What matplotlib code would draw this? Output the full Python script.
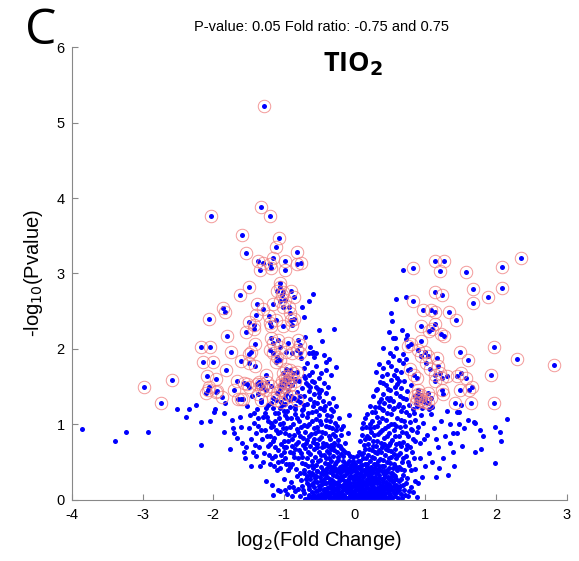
import numpy as np
import matplotlib
matplotlib.use("Agg")
import matplotlib.pyplot as plt

plt.rcParams['font.family'] = ['Liberation Sans', 'DejaVu Sans']
plt.rcParams['axes.unicode_minus'] = False

# significant proteins (circled), log2 fold change / -log10 p
sig_left = """
-1.28,5.22 -1.33,3.88 -1.20,3.76 -2.03,3.76 -1.59,3.51 -1.07,3.47 -1.11,3.35 -1.54,3.27
-0.81,3.28 -1.16,3.21 -1.36,3.17 -1.29,3.14 -1.20,3.13 -0.99,3.16 -0.82,3.12 -0.76,3.14
-1.34,3.05 -1.18,3.07 -0.99,3.05
-1.50,2.82 -1.62,2.71 -1.05,2.87 -1.06,2.82 -1.10,2.77 -1.02,2.76 -1.03,2.72 -0.90,2.77
-0.86,2.69 -0.99,2.65 -1.06,2.63 -1.15,2.59 -1.38,2.60 -1.30,2.53 -1.01,2.55 -0.93,2.55
-0.91,2.47 -1.86,2.54 -1.83,2.49 -2.06,2.40 -1.39,2.45 -1.21,2.44 -1.11,2.38 -0.86,2.40
-1.50,2.36 -1.43,2.32 -1.20,2.35 -1.19,2.30 -1.02,2.30 -0.90,2.38 -0.88,2.32
-1.81,2.17 -1.54,2.22 -1.43,2.27 -2.17,2.03 -2.04,2.03 -1.75,1.96 -1.41,2.07 -1.47,1.96
-1.50,1.93 -2.15,1.83 -2.00,1.83 -1.61,1.84 -1.50,1.81 -1.41,1.78 -1.82,1.72 -2.09,1.64
-1.96,1.60 -1.66,1.58 -1.52,1.53 -1.57,1.55 -1.49,1.49 -1.70,1.46 -2.07,1.45 -2.06,1.50
-1.94,1.44 -1.87,1.36 -1.65,1.34 -1.61,1.34 -1.58,1.33 -1.38,1.53 -1.35,1.56 -1.25,1.65
-1.24,1.56 -1.33,1.48 -1.26,1.46 -1.37,1.40 -1.32,1.32 -1.16,1.35 -1.10,1.42 -1.19,1.51
-1.05,1.52 -1.19,2.14 -1.16,2.08 -1.08,2.12 -1.05,2.03 -0.94,2.08 -0.80,2.12 -0.78,2.05
-1.20,1.99 -1.15,1.94 -1.10,1.89 -0.97,1.96 -0.88,1.94 -0.82,1.99 -0.78,1.94 -1.11,1.83
-1.06,1.85 -0.97,1.74 -0.92,1.72 -0.87,1.68 -0.82,1.70 -1.01,1.68 -0.99,1.61 -0.94,1.59
-0.90,1.61 -0.85,1.57 -0.98,1.55 -0.92,1.52 -1.06,1.46 -0.97,1.40 -0.90,1.37 -0.82,1.32
-1.11,1.32 -1.04,1.30 -0.99,1.35 -1.03,1.58 -0.96,1.64 -1.00,1.50 -0.95,1.55 -1.33,1.53
-1.30,1.50 -2.98,1.49 -2.74,1.29 -2.58,1.59 -2.10,1.41 -1.96,1.43
"""

sig_right = """
2.35,3.21 2.08,3.09 1.57,3.02 1.13,3.16 1.26,3.16 1.20,3.03 0.83,3.07 1.67,2.80
2.08,2.81 1.89,2.69 1.67,2.61 1.14,2.76 1.23,2.72 0.82,2.64 0.97,2.51 1.08,2.52
1.14,2.49 1.33,2.49 1.43,2.39 0.94,2.31 1.13,2.33 1.09,2.27 1.05,2.24 1.22,2.20
1.26,2.17 0.94,2.10 0.79,2.07 0.76,2.04 1.97,2.03 1.49,1.96 1.60,1.85 2.29,1.87
2.82,1.79 0.90,1.99 0.99,1.96 0.94,1.90 1.04,1.91 1.01,1.81 1.07,1.74 1.18,1.77
1.17,1.88 0.78,1.74 0.84,1.66 0.88,1.61 1.13,1.66 1.20,1.68 1.13,1.58 1.23,1.61
1.30,1.64 1.44,1.64 1.51,1.68 1.57,1.62 1.93,1.65 1.49,1.46 1.61,1.46 1.66,1.49
0.90,1.46 0.94,1.39 1.04,1.41 1.08,1.35 1.23,1.46 1.25,1.40 0.85,1.37 0.92,1.32
0.99,1.30 1.04,1.28 1.42,1.29 1.65,1.29 1.97,1.29 0.88,1.33 0.93,1.36 0.96,1.31
1.00,1.34 0.89,1.40 0.87,1.29
"""

# all other proteins
left_tail = """
-3.85,0.94 -3.39,0.78 -3.23,0.90 -2.92,0.90 -2.51,1.21 -2.38,1.10 -2.34,1.21 -2.25,1.26
-2.18,1.03 -2.18,0.73 -2.04,1.05 -1.99,1.16 -1.98,1.21 -1.85,1.15 -1.83,1.28 -1.85,0.90
-1.74,1.06 -1.77,0.68 -1.72,0.95 -1.70,0.88 -1.59,0.75 -1.61,0.97 -1.56,0.64 -1.55,0.55
-1.47,0.45 -1.44,0.64 -1.41,0.73 -1.34,0.45 -1.26,0.25 -1.17,0.20 -1.16,0.07 -1.08,0.13
-1.05,0.12 -0.99,0.13 -0.87,0.17
-1.52,1.25 -1.48,1.12 -1.45,1.38 -1.42,1.02 -1.40,0.88 -1.38,1.20 -1.36,0.98 -1.33,1.30
-1.31,0.80 -1.30,1.10 -1.28,0.62 -1.27,0.92 -1.25,1.22 -1.23,0.72 -1.22,1.05 -1.20,0.85
-1.18,1.28 -1.17,0.55 -1.15,0.98 -1.13,1.15 -1.12,0.70 -1.10,0.40 -1.09,0.88 -1.07,1.08
-1.05,1.22 -1.04,0.60 -1.02,0.95 -1.00,0.78 -0.98,1.12 -0.97,0.48
-1.50,0.95 -1.46,0.80 -1.43,1.15 -1.39,0.58 -1.37,1.08 -1.35,0.70 -1.32,0.92 -1.29,0.50
-1.27,1.15 -1.24,0.85 -1.21,0.60 -1.19,1.02 -1.16,0.78 -1.14,0.45 -1.11,0.92 -1.09,0.66
-1.06,1.00 -1.03,0.52 -1.62,1.10 -1.66,0.82 -1.53,0.70
"""

core = """
-0.78,0.05 -0.74,0.18 -0.71,0.09 -0.69,0.27 -0.66,0.02 -0.64,0.14 -0.62,0.33 -0.60,0.21
-0.58,0.07 -0.56,0.29 -0.55,0.12 -0.53,0.38 -0.51,0.02 -0.50,0.19 -0.48,0.25 -0.47,0.08
-0.45,0.34 -0.44,0.15 -0.42,0.03 -0.41,0.22 -0.39,0.30 -0.38,0.10 -0.36,0.17 -0.35,0.37
-0.34,0.04 -0.32,0.26 -0.31,0.12 -0.30,0.20 -0.28,0.06 -0.27,0.32 -0.26,0.15 -0.24,0.24
-0.23,0.01 -0.22,0.09 -0.21,0.36 -0.20,0.18 -0.18,0.28 -0.17,0.05 -0.16,0.13 -0.15,0.21
-0.14,0.33 -0.12,0.02 -0.11,0.10 -0.10,0.26 -0.09,0.17 -0.08,0.38 -0.07,0.06 -0.06,0.22
-0.05,0.13 -0.04,0.30 -0.03,0.01 -0.02,0.19 -0.01,0.09 0.00,0.27 0.01,0.04 0.02,0.15
0.03,0.35 0.04,0.22 0.05,0.08 0.06,0.30 0.07,0.12 0.08,0.02 0.09,0.19 0.10,0.26
0.11,0.06 0.12,0.14 0.13,0.33 0.14,0.21 0.15,0.03 0.16,0.10 0.17,0.28 0.18,0.17
0.19,0.37 0.20,0.07 0.21,0.23 0.22,0.13 0.23,0.31 0.24,0.02 0.25,0.19 0.26,0.09
0.27,0.26 0.29,0.15 0.30,0.35 0.31,0.05 0.32,0.22 0.33,0.11 0.35,0.29 0.36,0.18
0.37,0.02 0.38,0.38 0.39,0.08 0.40,0.24 0.41,0.14 0.43,0.32 0.44,0.04 0.45,0.20
0.47,0.11 0.48,0.27 0.50,0.06 0.51,0.36 0.52,0.17 0.54,0.23 0.55,0.09 0.57,0.31
0.59,0.14 0.61,0.03 0.62,0.25 0.64,0.19 0.66,0.08 0.68,0.33 0.70,0.13 0.72,0.22
0.75,0.05 0.79,0.17 0.82,0.10 -0.85,0.12 -0.90,0.24 -0.95,0.08 -0.82,0.31
-0.46,0.01 -0.43,0.12 -0.40,0.06 -0.37,0.23 -0.33,0.16 -0.29,0.01 -0.25,0.08 -0.22,0.20
-0.19,0.11 -0.16,0.01 -0.13,0.25 -0.10,0.03 -0.07,0.16 -0.04,0.08 -0.01,0.23 0.02,0.01
0.05,0.17 0.08,0.24 0.11,0.11 0.14,0.07 0.17,0.21 0.20,0.14 0.23,0.05 0.26,0.17
0.28,0.03 0.31,0.25 0.34,0.15 0.37,0.10 0.40,0.01 0.43,0.18 -0.35,0.01 -0.31,0.09
-0.27,0.22 -0.20,0.03 -0.15,0.17 -0.09,0.12 -0.03,0.05 0.01,0.13 0.04,0.26 0.07,0.04
0.10,0.18 0.13,0.01 0.16,0.24 0.19,0.02 0.22,0.27 0.25,0.12 0.28,0.22 0.32,0.07
0.35,0.04 -0.49,0.14 -0.52,0.06 -0.57,0.17 -0.61,0.10 0.46,0.14 0.49,0.21 0.53,0.02
0.56,0.26 0.60,0.10
-0.70,0.01 -0.67,0.22 -0.65,0.07 -0.63,0.28 -0.60,0.36 -0.59,0.01 -0.57,0.24 -0.54,0.32
-0.52,0.13 -0.49,0.30 -0.47,0.20 -0.45,0.07 -0.43,0.27 -0.41,0.35 -0.39,0.16 -0.37,0.04
-0.35,0.28 -0.33,0.10 -0.31,0.33 -0.29,0.16 -0.28,0.40 -0.26,0.04 -0.24,0.30 -0.23,0.14
-0.21,0.26 -0.19,0.42 -0.18,0.07 -0.16,0.31 -0.14,0.04 -0.13,0.18 -0.11,0.36 -0.09,0.22
-0.08,0.01 -0.06,0.32 -0.05,0.18 -0.03,0.40 -0.02,0.11 0.00,0.20 0.01,0.33 0.03,0.07
0.05,0.28 0.06,0.14 0.08,0.36 0.09,0.07 0.11,0.22 0.12,0.30 0.14,0.11 0.15,0.38
0.17,0.02 0.18,0.25 0.20,0.32 0.21,0.10 0.23,0.20 0.24,0.39 0.26,0.01 0.27,0.13
0.29,0.30 0.30,0.09 0.32,0.16 0.33,0.38 0.35,0.23 0.36,0.12 0.38,0.27 0.40,0.17
0.41,0.06 0.42,0.34 0.44,0.24 0.46,0.03 0.47,0.30 0.49,0.09 0.51,0.26 0.53,0.13
0.55,0.33 0.57,0.05 0.58,0.20 0.60,0.40 0.63,0.13 0.65,0.27 0.67,0.02 0.69,0.20
0.71,0.07 0.74,0.29 0.77,0.12 -0.76,0.26 -0.72,0.36 -0.80,0.14 -0.88,0.05 -0.93,0.17
-1.00,0.28 0.85,0.25 0.88,0.04
-0.50,0.04 -0.47,0.36 -0.44,0.22 -0.42,0.10 -0.39,0.42 -0.36,0.08 -0.34,0.21 -0.31,0.02
-0.29,0.24 -0.27,0.13 -0.25,0.37 -0.23,0.18 -0.21,0.05 -0.19,0.30 -0.17,0.16 -0.15,0.07
-0.13,0.39 -0.12,0.13 -0.10,0.21 -0.08,0.29 -0.07,0.10 -0.05,0.37 -0.04,0.02 -0.02,0.27
0.00,0.12 0.02,0.31 0.03,0.20 0.05,0.01 0.07,0.25 0.08,0.14 0.10,0.33 0.12,0.04
0.13,0.22 0.15,0.15 0.17,0.34 0.18,0.08 0.20,0.24 0.22,0.02 0.23,0.36 0.25,0.27
0.27,0.08 0.28,0.16 0.30,0.28 0.32,0.02 0.34,0.33 0.36,0.07 0.38,0.20 0.39,0.13
0.41,0.29 0.43,0.09 0.45,0.37 0.47,0.19 0.49,0.03 0.50,0.14 0.52,0.30 0.55,0.18
0.58,0.27 0.62,0.17 -0.55,0.02 -0.53,0.24 -0.58,0.33 -0.62,0.04 -0.65,0.18 -0.68,0.31
-0.73,0.13 -0.40,0.30 -0.33,0.40 -0.18,0.45 -0.06,0.44 0.06,0.42 0.18,0.43 0.29,0.42
0.40,0.45
-1.05,0.42 -0.98,0.56 -0.94,0.39 -0.91,0.63 -0.88,0.47 -0.85,0.68 -0.83,0.41 -0.80,0.55
-0.78,0.36 -0.76,0.62 -0.74,0.49 -0.72,0.40 -0.70,0.69 -0.68,0.55 -0.66,0.45 -0.64,0.37
-0.63,0.61 -0.61,0.51 -0.59,0.42 -0.58,0.67 -0.56,0.57 -0.54,0.46 -0.53,0.38 -0.51,0.63
-0.49,0.53 -0.47,0.43 -0.46,0.70 -0.44,0.60 -0.42,0.49 -0.40,0.39 -0.39,0.65 -0.37,0.55
-0.35,0.45 -0.33,0.68 -0.32,0.37 -0.30,0.58 -0.28,0.48 -0.27,0.41 -0.25,0.63 -0.23,0.53
-0.21,0.44 -0.19,0.69 -0.18,0.38 -0.16,0.58 -0.14,0.49 -0.12,0.42 -0.10,0.62 -0.08,0.52
-0.06,0.40 -0.04,0.47 -0.02,0.57 0.00,0.43 0.02,0.38 0.04,0.51 0.06,0.64 0.08,0.45
0.10,0.39 0.12,0.56 0.14,0.68 0.15,0.47 0.17,0.41 0.19,0.60 0.21,0.52 0.23,0.43
0.25,0.66 0.26,0.37 0.28,0.56 0.30,0.48 0.32,0.62 0.34,0.41 0.36,0.54 0.38,0.70
0.39,0.45 0.41,0.38 0.43,0.60 0.45,0.50 0.47,0.66 0.49,0.42 0.51,0.57 0.53,0.36
0.55,0.48 0.57,0.68 0.59,0.55 0.62,0.43 0.64,0.62 0.67,0.50 0.70,0.39 0.73,0.58
0.77,0.46 0.81,0.63 0.86,0.41 0.92,0.55 -1.12,0.58 -1.20,0.47
-0.60,0.46 -0.55,0.74 -0.52,0.52 -0.48,0.60 -0.45,0.40 -0.41,0.56 -0.38,0.47 -0.36,0.62
-0.34,0.52 -0.31,0.43 -0.29,0.66 -0.26,0.50 -0.24,0.57 -0.22,0.39 -0.20,0.61 -0.17,0.52
-0.15,0.43 -0.13,0.63 -0.11,0.48 -0.09,0.41 -0.07,0.58 -0.05,0.45 -0.03,0.52 -0.01,0.39
0.01,0.47 0.03,0.58 0.05,0.44 0.07,0.52 0.09,0.61 0.11,0.46 0.13,0.40 0.16,0.55
0.18,0.48 0.20,0.67 0.22,0.40 0.24,0.57 0.27,0.47 0.29,0.64 0.31,0.40 0.33,0.52
0.35,0.45 0.37,0.63 0.40,0.53 0.42,0.45 0.44,0.68 0.46,0.40 0.48,0.56 0.50,0.49
0.52,0.65 0.54,0.42 0.58,0.44 0.61,0.60 0.65,0.41 0.69,0.55 0.72,0.67 0.75,0.50
0.79,0.40 0.84,0.55 -0.66,0.63 -0.70,0.47 -0.74,0.57 -0.79,0.66 -0.86,0.57 -0.93,0.48
-1.00,0.63 -1.08,0.50 -0.97,0.70
0.12,0.62 0.26,0.71 0.35,0.66 0.48,0.73 0.56,0.61 0.66,0.72 0.78,0.70 -0.40,0.74
-0.30,0.72 -0.16,0.66 -0.53,0.70 -0.87,0.62 -0.92,0.43
"""

left_arm = """
-1.14,0.82 -1.08,1.15 -1.04,0.74 -1.01,1.02 -0.99,0.88 -0.96,1.18 -0.94,0.78 -0.92,0.97
-0.90,1.09 -0.88,0.71 -0.86,0.86 -0.84,1.14 -0.82,0.94 -0.80,0.77 -0.79,1.04 -0.77,0.84
-0.75,1.19 -0.73,0.73 -0.72,0.99 -0.70,0.90 -0.68,1.10 -0.67,0.79 -0.65,1.01 -0.63,0.72
-0.62,0.87 -0.60,1.16 -0.58,0.95 -0.57,0.80 -0.55,1.07 -0.53,0.74 -0.52,0.91 -0.50,1.13
-0.48,0.83 -0.47,1.00 -0.45,0.76 -0.43,1.19 -0.42,0.89 -0.40,1.06 -0.38,0.72 -0.37,0.96
-0.35,0.81 -0.33,1.11 -0.31,0.87 -0.29,0.75 -0.28,1.02 -0.26,0.93 -0.24,0.79 -0.22,1.08
-0.21,0.71 -0.19,0.86 -0.16,0.98 -0.13,0.76 -0.10,0.89 -0.08,1.12 -1.18,0.96 -1.24,1.10
-1.22,1.26 -1.15,1.22 -0.98,1.27 -0.94,1.45 -0.91,1.23 -0.88,1.52 -0.86,1.35 -0.84,1.25
-0.81,1.43 -0.79,1.58 -0.77,1.30 -0.75,1.48 -0.73,1.21 -0.71,1.38 -0.69,1.55 -0.67,1.27
-0.65,1.44 -0.63,1.33 -0.61,1.57 -0.59,1.24 -0.57,1.40 -0.55,1.50 -0.53,1.29 -0.51,1.36
-0.49,1.22 -0.47,1.46 -0.45,1.31 -0.42,1.25 -0.40,1.41 -0.37,1.28 -0.34,1.21 -0.30,1.35
-0.26,1.24
-1.20,0.74 -1.12,1.04 -1.06,0.90 -1.03,1.26 -1.00,0.70 -0.97,0.95 -0.95,1.08 -0.93,0.86
-0.91,1.32 -0.89,0.80 -0.87,1.00 -0.85,1.20 -0.83,0.74 -0.81,1.08 -0.80,0.90 -0.78,1.37
-0.76,0.97 -0.74,1.12 -0.73,0.82 -0.71,1.26 -0.69,0.75 -0.68,0.98 -0.66,1.15 -0.64,0.85
-0.63,1.50 -0.61,1.05 -0.59,0.77 -0.58,1.30 -0.56,0.88 -0.55,1.18 -0.53,0.97 -0.51,0.81
-0.50,1.42 -0.49,1.05 -0.46,0.90 -0.45,1.20 -0.44,0.72 -0.41,0.98 -0.39,1.13 -0.36,0.85
-0.35,1.04 -0.33,0.73 -0.32,0.95 -0.30,1.18 -0.28,0.84 -0.25,0.98 -0.23,0.73 -0.20,0.94
-0.84,1.60 -0.72,1.64 -0.66,1.52 -0.57,1.56 -0.52,1.47 -0.44,1.55 -0.38,1.50 -1.00,1.18
-0.59,2.73 -0.64,2.63 -0.72,2.42 -0.51,2.25 -0.29,2.27 -0.46,2.10 -0.60,1.95 -0.57,1.89
-0.43,1.92 -0.36,1.87 -0.27,1.76 -0.64,1.94 -0.59,1.96 -0.54,1.94 -0.40,1.83 -0.68,1.81
-0.61,1.70 -0.50,1.61 -0.40,1.72 -0.75,2.55 -0.65,1.65 -0.72,1.75 -0.55,1.78 -0.48,1.68
-0.70,1.62 -0.76,1.88 -0.33,1.65 -0.63,2.03 -0.70,2.16
"""

right_arm = """
0.08,0.78 0.11,0.95 0.13,0.73 0.15,1.08 0.17,0.85 0.19,0.74 0.21,1.00 0.23,0.90
0.24,1.17 0.26,0.78 0.28,0.96 0.30,0.71 0.31,1.10 0.33,0.87 0.35,1.03 0.37,0.76
0.39,0.93 0.40,1.19 0.42,0.82 0.44,1.06 0.46,0.72 0.47,0.98 0.49,0.88 0.51,1.14
0.53,0.79 0.55,1.01 0.56,0.92 0.58,0.74 0.60,1.09 0.62,0.85 0.64,0.97 0.66,1.18
0.68,0.77 0.70,1.04 0.72,0.89 0.74,0.73 0.77,1.12 0.79,0.94 0.82,0.81 0.85,1.06
0.88,0.90 0.92,0.75 0.96,1.02 1.02,0.86 1.08,1.14 1.15,0.80
0.10,0.86 0.12,1.02 0.14,0.80 0.16,0.96 0.18,1.14 0.20,0.82 0.22,0.95 0.25,1.05
0.27,0.86 0.29,1.16 0.31,0.78 0.32,0.98 0.34,1.23 0.36,0.90 0.38,1.08 0.41,0.74
0.43,0.95 0.45,1.15 0.46,0.84 0.48,1.32 0.50,0.76 0.52,1.00 0.54,1.20 0.57,0.84
0.59,0.98 0.61,1.25 0.63,0.76 0.65,1.06 0.67,0.90 0.69,1.35 0.71,0.98 0.73,1.17
0.75,0.84 0.78,1.03 0.81,0.92 0.84,1.15 0.86,0.78 0.90,0.96 0.94,1.12
0.22,1.25 0.26,1.38 0.29,1.23 0.32,1.47 0.34,1.30 0.36,1.56 0.38,1.21 0.40,1.40
0.42,1.28 0.44,1.52 0.46,1.35 0.48,1.24 0.50,1.45 0.52,1.59 0.54,1.31 0.56,1.22
0.58,1.42 0.60,1.53 0.62,1.27 0.64,1.37 0.66,1.48 0.68,1.23 0.70,1.58 0.72,1.33
0.74,1.44 0.77,1.26 0.80,1.52 0.83,1.21 0.88,1.25 0.95,1.22 1.10,1.23
0.30,1.45 0.40,1.55 0.47,1.47 0.57,1.50 0.63,1.58 0.50,1.35 0.37,1.33
0.69,3.05 0.72,2.69 0.59,2.66 0.52,2.48 0.53,2.37 0.49,2.23 0.54,2.14 0.57,2.15
0.67,2.25 0.74,2.18 0.72,2.13 0.40,2.01 0.50,1.95 0.54,1.91 0.59,2.01 0.68,1.93
0.72,1.87 0.69,1.82 0.35,1.80 0.40,1.75 0.47,1.83 0.52,1.78 0.58,1.72 0.63,1.85
0.45,1.67 0.38,1.64 0.55,1.65 0.65,1.70 0.75,1.72 0.30,1.70 0.60,1.62
"""

right_tail = """
2.16,1.07 1.98,0.97 2.05,0.90 2.07,0.78 1.98,0.49 1.77,0.93 1.81,0.84 1.78,0.68
1.70,0.63 1.69,1.03 1.52,0.72 1.39,0.64 1.32,0.33 1.51,1.26 1.70,1.02 1.44,1.17
1.60,1.06 1.55,0.95 1.45,0.88 1.35,1.00 1.28,0.85 1.22,1.05 1.18,0.70 1.25,0.55
1.12,0.95 1.05,0.62 1.00,0.45 0.98,0.80 1.10,0.50 1.30,1.18 1.40,0.45 1.15,0.30
0.95,0.30 0.90,0.22 1.05,1.20 1.35,0.75 1.19,0.42 1.48,1.01 1.48,1.17 1.39,0.88
"""


def parse(txt):
    return np.array([[float(v) for v in tok.split(",")] for tok in txt.split()])


others = np.vstack([parse(left_tail), parse(core), parse(left_arm),
                    parse(right_arm), parse(right_tail)])
sig = np.vstack([parse(sig_left), parse(sig_right)])

fig = plt.figure(figsize=(5.79, 5.61), dpi=100)
ax = fig.add_axes([0.124, 0.109, 0.855, 0.807])

ax.plot(others[:, 0], others[:, 1], 'o', color='#0000ff', markersize=3.6,
        markeredgewidth=0, linestyle='none')
ax.plot(sig[:, 0], sig[:, 1], 'o', color='#0000ff', markersize=3.6,
        markeredgewidth=0, linestyle='none')
ax.plot(sig[:, 0], sig[:, 1], 'o', markerfacecolor='none',
        markeredgecolor='#f08080', markersize=9, markeredgewidth=0.7,
        linestyle='none', alpha=0.8)

ax.set_xlim(-4, 3)
ax.set_ylim(0, 6)
ax.set_xticks(range(-4, 4))
ax.set_yticks(range(0, 7))
for s in ['top', 'right']:
    ax.spines[s].set_visible(False)
for s in ['left', 'bottom']:
    ax.spines[s].set_color('#888888')
    ax.spines[s].set_linewidth(0.8)
ax.tick_params(direction='in', length=4, color='#888888', labelsize=10.5,
               labelcolor='black')
ax.tick_params(axis='x', pad=6)
ax.tick_params(axis='y', pad=5)

ax.set_xlabel(r'log$_2$(Fold Change)', fontsize=14.5, labelpad=5)
ax.set_ylabel(r'-log$_{10}$(Pvalue)', fontsize=14.5, labelpad=8)

fig.text(0.556, 0.952, 'P-value: 0.05 Fold ratio: -0.75 and 0.75',
         fontsize=10.5, ha='center', va='center')
fig.text(0.61, 0.885, r'TIO$_\mathbf{2}$', fontsize=19.5, fontweight='bold',
         family=['Open Sans', 'DejaVu Sans'], ha='center', va='center')
fig.text(0.07, 0.945, 'C', fontsize=36, family=['Open Sans', 'DejaVu Sans'],
         ha='center', va='center')

fig.savefig('out.png', dpi=100)
